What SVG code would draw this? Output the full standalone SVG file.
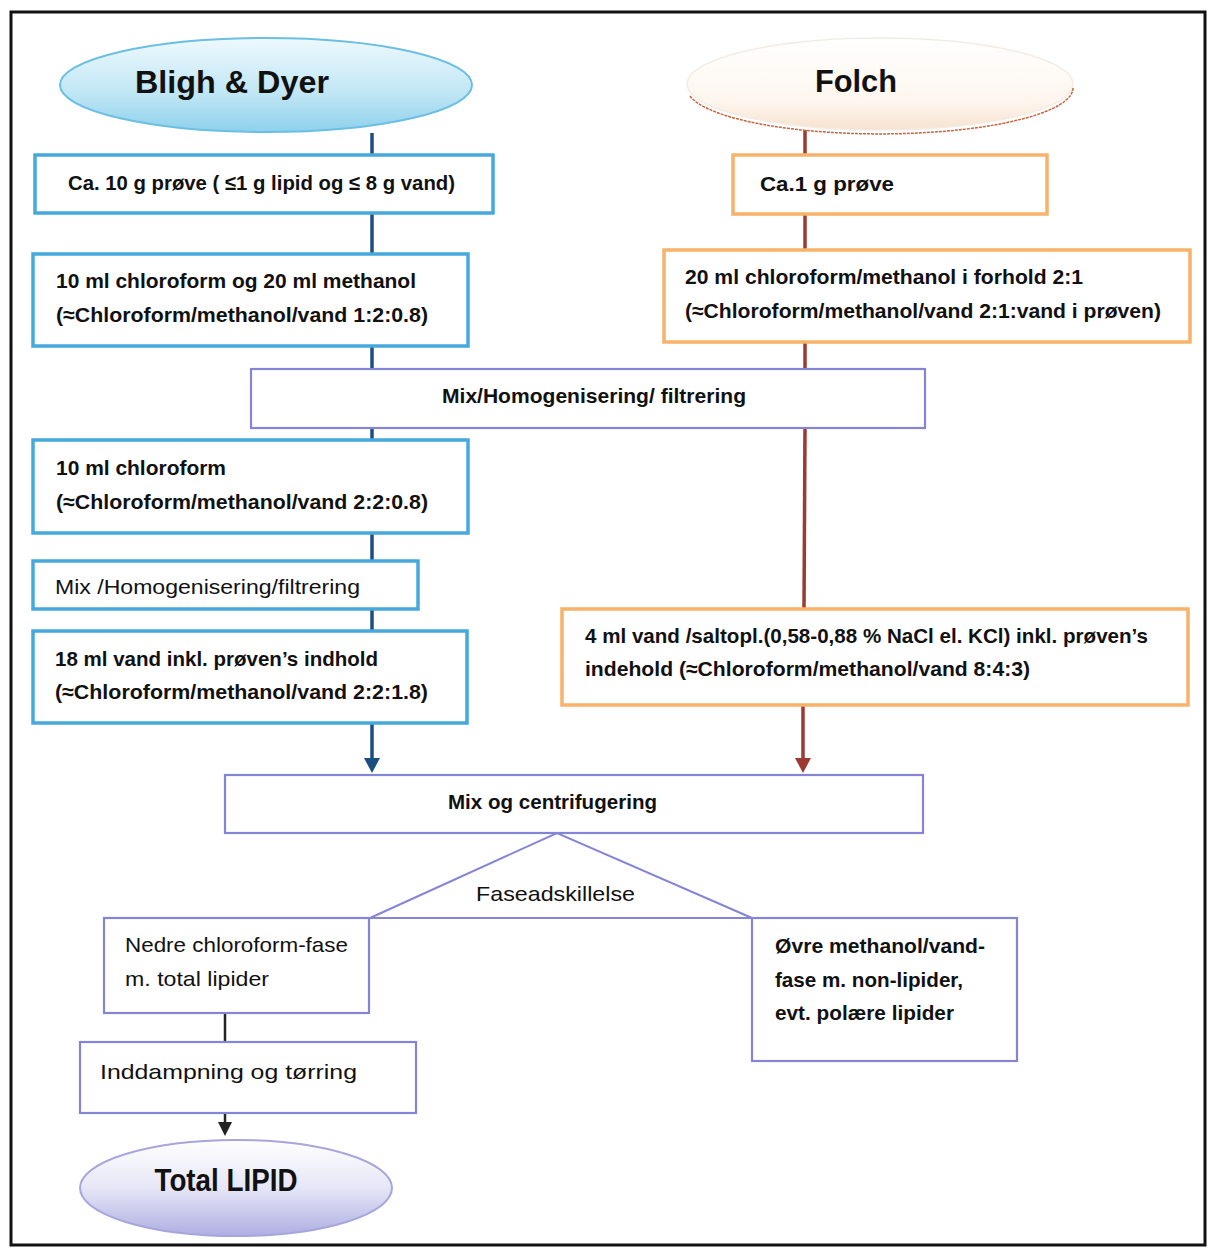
<svg xmlns="http://www.w3.org/2000/svg" width="1209" height="1249" viewBox="0 0 1209 1249">
<defs>
<style>
text{font-family:"Liberation Sans",Arial,sans-serif;fill:#111;}
.b{font-size:21px;font-weight:bold;}
.r{font-size:21px;font-weight:normal;}
.t{font-size:31px;font-weight:bold;}
.bbox{fill:#fff;stroke:#45a9dd;stroke-width:3.5;}
.obox{fill:#fff;stroke:#f8b26a;stroke-width:3.5;}
.pbox{fill:#fff;stroke:#8585d8;stroke-width:2.2;}
.blue{stroke:#1c4f80;stroke-width:3.5;fill:none;}
.red{stroke:#9a3a30;stroke-width:3.5;fill:none;}
.blk{stroke:#222;stroke-width:2.5;fill:none;}
.pl{stroke:#8585d8;stroke-width:2;fill:none;}
</style>
<linearGradient id="gBlue" x1="0" y1="0" x2="0" y2="1">
<stop offset="0" stop-color="#eef9fd"/><stop offset="0.6" stop-color="#bfe6f5"/><stop offset="1" stop-color="#8ed1ec"/>
</linearGradient>
<linearGradient id="gCream" x1="0" y1="0" x2="0" y2="1">
<stop offset="0" stop-color="#ffffff"/><stop offset="0.7" stop-color="#fdf6ee"/><stop offset="1" stop-color="#f7e2cf"/>
</linearGradient>
<linearGradient id="gLav" x1="0" y1="0" x2="0" y2="1">
<stop offset="0" stop-color="#ffffff"/><stop offset="0.5" stop-color="#e6e6f7"/><stop offset="1" stop-color="#aeaee2"/>
</linearGradient>
</defs>
<rect x="0" y="0" width="1209" height="1249" fill="#fff"/>
<rect x="11" y="12" width="1194" height="1233" fill="none" stroke="#111" stroke-width="3"/>

<g id="connectors">
<line class="blue" x1="372" y1="133" x2="372" y2="155"/>
<line class="blue" x1="372" y1="213" x2="372" y2="254"/>
<line class="blue" x1="372" y1="346" x2="372" y2="369"/>
<line class="blue" x1="372" y1="428" x2="372" y2="440"/>
<line class="blue" x1="372" y1="533" x2="372" y2="561"/>
<line class="blue" x1="372" y1="609" x2="372" y2="631"/>
<line class="blue" x1="372" y1="723" x2="372" y2="760"/>
<polygon points="364,758 380,758 372,773" fill="#1c4f80"/>
<line class="red" x1="805" y1="130" x2="805" y2="155"/>
<line class="red" x1="805" y1="214" x2="805" y2="250"/>
<line class="red" x1="805" y1="342" x2="805" y2="369"/>
<line class="red" x1="805" y1="428" x2="804" y2="609"/>
<line class="red" x1="803" y1="705" x2="803" y2="760"/>
<polygon points="795,758 811,758 803,773" fill="#9a3a30"/>
<polyline class="pl" points="370,918 557,833 752,918"/>
<line class="pl" x1="370" y1="918" x2="752" y2="918"/>
<line class="blk" x1="225" y1="1013" x2="225" y2="1042"/>
<line class="blk" x1="225" y1="1113" x2="225" y2="1124"/>
<polygon points="218,1122 232,1122 225,1136" fill="#222"/>
</g>

<g id="bligh">
<ellipse cx="266" cy="85" rx="206" ry="47" fill="url(#gBlue)" stroke="#6bbfe2" stroke-width="2"/>
<text class="t" x="232" y="93" text-anchor="middle" textLength="194" lengthAdjust="spacingAndGlyphs">Bligh &amp; Dyer</text>
</g>
<g id="folch">
<ellipse cx="880" cy="84" rx="193" ry="46" fill="url(#gCream)" stroke="#f3ece4" stroke-width="1.5"/>
<path d="M690,96 A193,46 0 0 0 1073,88" fill="none" stroke="#c8643c" stroke-width="1.5" stroke-dasharray="3,1"/>
<text class="t" x="856" y="92" text-anchor="middle" textLength="82" lengthAdjust="spacingAndGlyphs">Folch</text>
</g>

<g id="b1">
<rect class="bbox" x="35" y="155" width="458" height="58"/>
<text class="b" x="68" y="190" textLength="387" lengthAdjust="spacingAndGlyphs">Ca. 10 g prøve ( ≤1 g lipid og ≤ 8 g vand)</text>
</g>
<g id="b2">
<rect class="bbox" x="33" y="254" width="435" height="92"/>
<text class="b" x="56" y="288" textLength="360" lengthAdjust="spacingAndGlyphs">10 ml chloroform og 20 ml methanol</text>
<text class="b" x="56" y="322" textLength="372" lengthAdjust="spacingAndGlyphs">(≈Chloroform/methanol/vand 1:2:0.8)</text>
</g>
<g id="mix1">
<rect class="pbox" x="251" y="369" width="674" height="59"/>
<text class="b" x="442" y="403" textLength="304" lengthAdjust="spacingAndGlyphs">Mix/Homogenisering/ filtrering</text>
</g>
<g id="b3">
<rect class="bbox" x="33" y="440" width="435" height="93"/>
<text class="b" x="56" y="475" textLength="170" lengthAdjust="spacingAndGlyphs">10 ml chloroform</text>
<text class="b" x="56" y="509" textLength="372" lengthAdjust="spacingAndGlyphs">(≈Chloroform/methanol/vand 2:2:0.8)</text>
</g>
<g id="b4">
<rect class="bbox" x="33" y="561" width="385" height="48"/>
<text class="r" x="55" y="594" textLength="305" lengthAdjust="spacingAndGlyphs">Mix /Homogenisering/filtrering</text>
</g>
<g id="b5">
<rect class="bbox" x="33" y="631" width="434" height="92"/>
<text class="b" x="55" y="666" textLength="323" lengthAdjust="spacingAndGlyphs">18 ml vand inkl. prøven’s indhold</text>
<text class="b" x="55" y="699" textLength="373" lengthAdjust="spacingAndGlyphs">(≈Chloroform/methanol/vand 2:2:1.8)</text>
</g>

<g id="f1">
<rect class="obox" x="733" y="155" width="314" height="59"/>
<text class="b" x="760" y="191" textLength="134" lengthAdjust="spacingAndGlyphs">Ca.1 g prøve</text>
</g>
<g id="f2">
<rect class="obox" x="664" y="250" width="526" height="92"/>
<text class="b" x="685" y="284" textLength="398" lengthAdjust="spacingAndGlyphs">20 ml chloroform/methanol i forhold 2:1</text>
<text class="b" x="685" y="318" textLength="476" lengthAdjust="spacingAndGlyphs">(≈Chloroform/methanol/vand 2:1:vand i prøven)</text>
</g>
<g id="f3">
<rect class="obox" x="562" y="609" width="626" height="96"/>
<text class="b" x="585" y="643" textLength="563" lengthAdjust="spacingAndGlyphs">4 ml vand /saltopl.(0,58-0,88 % NaCl el. KCl) inkl. prøven’s</text>
<text class="b" x="585" y="676" textLength="445" lengthAdjust="spacingAndGlyphs">indehold (≈Chloroform/methanol/vand 8:4:3)</text>
</g>

<g id="mix2">
<rect class="pbox" x="225" y="775" width="698" height="58"/>
<text class="b" x="448" y="809" textLength="209" lengthAdjust="spacingAndGlyphs">Mix og centrifugering</text>
</g>
<g id="fase">
<text class="r" x="476" y="901" textLength="159" lengthAdjust="spacingAndGlyphs">Faseadskillelse</text>
</g>
<g id="nedre">
<rect class="pbox" x="104" y="918" width="265" height="95"/>
<text class="r" x="125" y="952" textLength="223" lengthAdjust="spacingAndGlyphs">Nedre chloroform-fase</text>
<text class="r" x="125" y="986" textLength="144" lengthAdjust="spacingAndGlyphs">m. total lipider</text>
</g>
<g id="ovre">
<rect class="pbox" x="752" y="918" width="265" height="143"/>
<text class="b" x="775" y="953" textLength="210" lengthAdjust="spacingAndGlyphs">Øvre methanol/vand-</text>
<text class="b" x="775" y="987" textLength="188" lengthAdjust="spacingAndGlyphs">fase m. non-lipider,</text>
<text class="b" x="775" y="1020" textLength="179" lengthAdjust="spacingAndGlyphs">evt. polære lipider</text>
</g>
<g id="inddamp">
<rect class="pbox" x="80" y="1042" width="336" height="71"/>
<text class="r" x="100" y="1079" textLength="257" lengthAdjust="spacingAndGlyphs">Inddampning og tørring</text>
</g>
<g id="total">
<ellipse cx="236" cy="1188" rx="156" ry="48" fill="url(#gLav)" stroke="#a6a6dc" stroke-width="2"/>
<text class="t" x="226" y="1191" text-anchor="middle" textLength="143" lengthAdjust="spacingAndGlyphs">Total LIPID</text>
</g>
</svg>
